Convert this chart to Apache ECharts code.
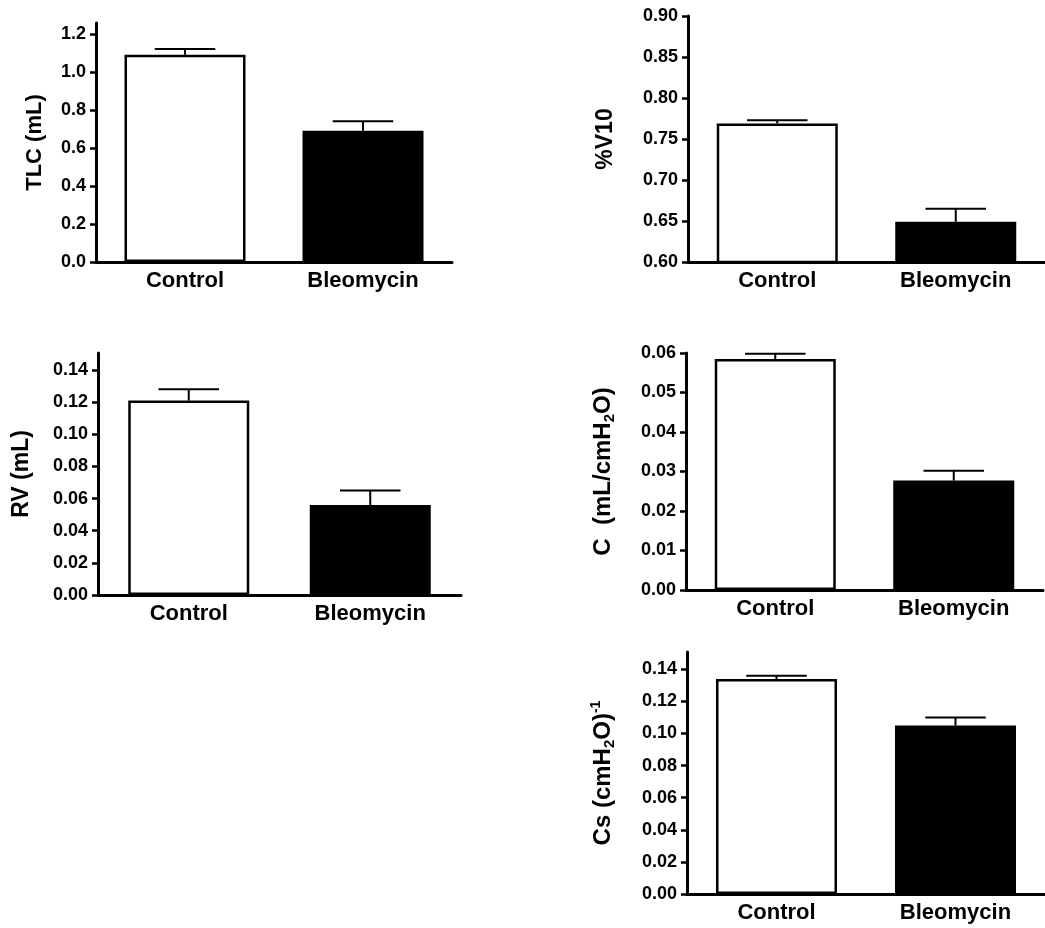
<!DOCTYPE html>
<html>
<head>
<meta charset="utf-8">
<script src="https://cdn.jsdelivr.net/npm/echarts@6/dist/echarts.min.js"></script>
<style>
  html, body { margin: 0; padding: 0; background: #fff; }
  #chart { width: 1045px; height: 928px; }
</style>
</head>
<body>
<div id="chart"></div>
<script>
// ---- Data ----
const categories = ['Control', 'Bleomycin'];

const tlcMean = [1.09, 0.69];
const tlcSem  = [0.03, 0.05];

const v10Mean = [0.769, 0.649];
const v10Sem  = [0.004, 0.016];

const rvMean = [0.121, 0.056];
const rvSem  = [0.007, 0.009];

const cMean = [0.0585, 0.0277];
const cSem  = [0.0013, 0.0025];

const csMean = [0.134, 0.105];
const csSem  = [0.002, 0.005];

// tick labels
const tlcTicks = [0.0, 0.2, 0.4, 0.6, 0.8, 1.0, 1.2];
const v10Ticks = [0.60, 0.65, 0.70, 0.75, 0.80, 0.85, 0.90];
const rvTicks  = [0.00, 0.02, 0.04, 0.06, 0.08, 0.10, 0.12, 0.14];
const cTicks   = [0.00, 0.01, 0.02, 0.03, 0.04, 0.05, 0.06];
const csTicks  = [0.00, 0.02, 0.04, 0.06, 0.08, 0.10, 0.12, 0.14];

// axis titles
const tlcName = 'TLC (mL)';
const v10Name = '%V10';
const rvName  = 'RV (mL)';
const cName   = '{n|C  (mL/cmH}{s|2}{n|O)}';
const csName  = '{n|Cs (cmH}{s|2}{n|O)}{p|-1}';

// ---- Build ----
const FONT = '"Liberation Sans", Arial, sans-serif';
const panels = [
  { mean: tlcMean, sem: tlcSem, ticks: tlcTicks, dec: 1, name: tlcName, min: 0, max: 1.257, fs: 22,
    grid: { left: 96, top: 23, right: 593, bottom: 666 }, gap: 50 },
  { mean: v10Mean, sem: v10Sem, ticks: v10Ticks, dec: 2, name: v10Name, min: 0.6, max: 0.9, fs: 23,
    grid: { left: 688, top: 16, right: -9, bottom: 666 }, gap: 71 },
  { mean: rvMean, sem: rvSem, ticks: rvTicks, dec: 2, name: rvName, min: 0, max: 0.1506, fs: 23,
    grid: { left: 98, top: 353, right: 584, bottom: 333 }, gap: 65 },
  { mean: cMean, sem: cSem, ticks: cTicks, dec: 2, name: cName, min: 0, max: 0.06, fs: 24,
    grid: { left: 686, top: 353, right: 2, bottom: 338 }, gap: 69 },
  { mean: csMean, sem: csSem, ticks: csTicks, dec: 2, name: csName, min: 0, max: 0.1508, fs: 24,
    grid: { left: 687, top: 652, right: -4, bottom: 34 }, gap: 70 }
];

const BAR_W = 121;
const grids = [], xAxes = [], yAxes = [], series = [];

panels.forEach((p, k) => {
  grids.push(Object.assign({ containLabel: false }, p.grid));
  xAxes.push({
    type: 'category', gridIndex: k, data: categories,
    axisLine: { show: true, lineStyle: { color: '#000', width: 3 } },
    axisTick: { show: false },
    axisLabel: { color: '#000', fontFamily: FONT, fontWeight: 'bold', fontSize: 22, margin: 8 },
    splitLine: { show: false }
  });
  yAxes.push({
    type: 'value', gridIndex: k, min: p.min, max: p.max,
    name: p.name, nameLocation: 'middle', nameGap: p.gap,
    nameTextStyle: {
      color: '#000', fontFamily: FONT, fontWeight: 'bold', fontSize: p.fs,
      rich: {
        n: { color: '#000', fontFamily: FONT, fontWeight: 'bold', fontSize: p.fs },
        s: { color: '#000', fontFamily: FONT, fontWeight: 'bold', fontSize: 15, padding: [13, 0, 0, 0] },
        p: { color: '#000', fontFamily: FONT, fontWeight: 'bold', fontSize: 14, padding: [0, 0, 13, 0] }
      }
    },
    axisLine: { show: true, lineStyle: { color: '#000', width: 3 } },
    axisTick: { show: true, length: 6, lineStyle: { color: '#000', width: 2.5 }, customValues: p.ticks },
    axisLabel: {
      color: '#000', fontFamily: FONT, fontWeight: 'bold', fontSize: 18, margin: 10,
      customValues: p.ticks,
      formatter: v => Number(v).toFixed(p.dec)
    },
    splitLine: { show: false }
  });
  series.push({
    type: 'bar', xAxisIndex: k, yAxisIndex: k, barWidth: BAR_W, z: 2,
    data: categories.map((c, i) => ({
      value: p.mean[i],
      itemStyle: i === 0
        ? { color: '#fff', borderColor: '#000', borderWidth: 2.5 }
        : { color: '#000', borderColor: '#000', borderWidth: 2.5 }
    }))
  });
  series.push({
    type: 'custom', xAxisIndex: k, yAxisIndex: k, z: 3,
    data: categories.map((c, i) => [i, p.mean[i], p.mean[i] + p.sem[i]]),
    renderItem: (params, api) => {
      const a = api.coord([api.value(0), api.value(1)]);
      const b = api.coord([api.value(0), api.value(2)]);
      const half = BAR_W / 4;
      return {
        type: 'group',
        children: [
          { type: 'line', shape: { x1: a[0], y1: a[1], x2: b[0], y2: b[1] }, style: { stroke: '#000', lineWidth: 2 } },
          { type: 'line', shape: { x1: b[0] - half, y1: b[1], x2: b[0] + half, y2: b[1] }, style: { stroke: '#000', lineWidth: 2 } }
        ]
      };
    }
  });
});

const chart = echarts.init(document.getElementById('chart'), null, { renderer: 'canvas' });
chart.setOption({
  backgroundColor: '#fff',
  animation: false,
  grid: grids, xAxis: xAxes, yAxis: yAxes, series: series
});
</script>
</body>
</html>
